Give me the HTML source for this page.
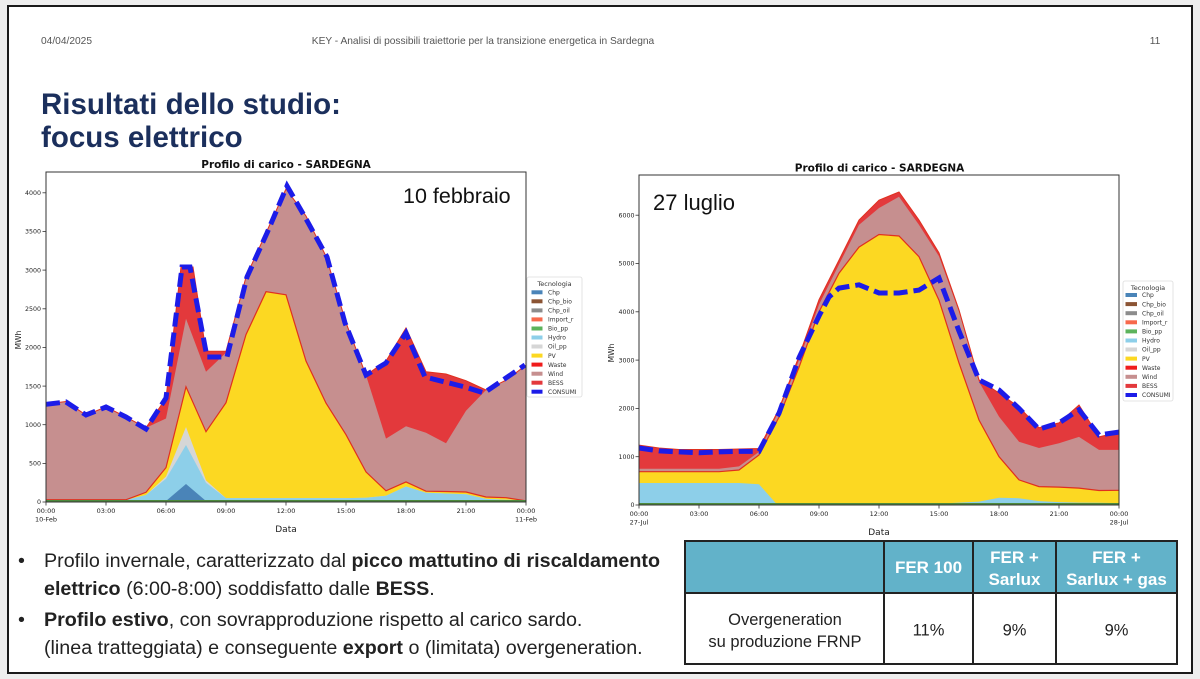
<!DOCTYPE html>
<html><head><meta charset="utf-8"><style>
html,body{margin:0;padding:0;background:#eeeeee;}
svg{display:block;}
</style></head><body>
<svg width="1200" height="679" viewBox="0 0 1200 679" xmlns="http://www.w3.org/2000/svg">
<rect x="0" y="0" width="1200" height="679" fill="#eeeeee"/>
<rect x="8" y="6" width="1184" height="667" fill="#ffffff" stroke="#1a1a1a" stroke-width="2"/>

<!-- header -->
<g font-family="Liberation Sans, sans-serif" font-size="10.2" fill="#555">
<text x="41" y="44">04/04/2025</text>
<text x="483" y="44" text-anchor="middle">KEY - Analisi di possibili traiettorie per la transizione energetica in Sardegna</text>
<text x="1155" y="44" text-anchor="middle">11</text>
</g>
<g font-family="Liberation Sans, sans-serif" font-size="29.5" font-weight="bold" fill="#1b2f5c">
<text x="41" y="114">Risultati dello studio:</text>
<text x="41" y="147">focus elettrico</text>
</g>

<!-- ============ LEFT CHART ============ -->
<g>
<polygon fill="#e3393c" points="46,404 66,401.5 86,415 106,406.9 126,417 146,427.8 166,398 181,267 193,267 206,351.3 226,351.3 246,277.1 266,233 286,188.9 306,216 326,256.2 346,322.7 366,375.2 386,361 406,328 426,371.7 446,374 466,380.7 486,390 506,380.2 526,365.2 526,502 46,502"/>
<polygon fill="#c68f8f" points="46,404 66,401.5 86,415 106,406.9 126,417 146,427.8 166,418.5 186,318.8 206,371.7 226,352.8 246,277.1 266,233 286,188.9 306,216 326,256.2 346,322.7 366,375.2 386,438.6 406,426.2 426,432.8 446,443.3 466,410.8 486,390 506,380.2 526,365.2 526,502 46,502"/>
<polygon fill="#fcd822" points="46,499.7 126,499.7 146,492.3 166,467.6 186,386.8 206,431.7 226,402.7 246,334.6 266,291.7 286,294.8 306,361 326,403.1 346,434.7 366,471.9 386,490.8 406,481.9 426,491.2 446,491.5 466,492 486,497 506,497.7 526,500.8 526,502 46,502"/>
<polygon fill="#d6d6d6" points="46,500 126,500 146,495 166,476.5 186,427 206,480.4 226,498.1 346,498.1 366,497.7 386,495.8 406,486.5 426,492.7 446,493.5 466,494.3 486,498.9 506,499.7 526,500.5 526,502 46,502"/>
<polygon fill="#8dcfe9" points="46,500 126,500 146,495 166,478.8 186,445 206,482.7 226,498.1 346,498.1 366,497.7 386,495.8 406,486.5 426,492.7 446,493.5 466,494.3 486,498.9 506,499.7 526,500.5 526,502 46,502"/>
<polygon fill="#4a84b8" points="166,501 186,484 206,501"/>
<polyline fill="none" stroke="#e0301e" stroke-width="1.2" points="46,499.7 126,499.7 146,492.3 166,467.6 186,386.8 206,431.7 226,402.7 246,334.6 266,291.7 286,294.8 306,361 326,403.1 346,434.7 366,471.9 386,490.8 406,481.9 426,491.2 446,491.5 466,492 486,497 506,497.7 526,500.8"/>
<polyline fill="none" stroke="#e0301e" stroke-width="1" points="46,404 66,401.5 86,415 106,406.9 126,417 146,427.8 166,398 181,267 193,267 206,351.3 226,351.3 246,277.1 266,233 286,188.9 306,216 326,256.2 346,322.7 366,375.2 386,361 406,328 426,371.7 446,374 466,380.7 486,390 506,380.2 526,365.2"/>
<line x1="46" y1="500.8" x2="526" y2="500.8" stroke="#4c8a3c" stroke-width="1.6"/>
<polyline fill="none" stroke="#1c1ce8" stroke-width="5" stroke-dasharray="14 6" points="46,404.3 66,402 86,415 106,407 126,417 146,429 166,398 182,267 190,267 207,357 227,357 247,277 267,233 287,186 305,217 327,257 345,323 366,375 386,363 406,333 425,377 445,382 465,387 484,393 503,380 525,365"/>
<rect x="46" y="172" width="480" height="330" fill="none" stroke="#333" stroke-width="1"/>
</g>
<g font-family="DejaVu Sans, sans-serif" font-size="6.3" fill="#222" text-anchor="end">
<g stroke="#333" stroke-width="0.8">
<line x1="42.5" y1="502" x2="46" y2="502"/><line x1="42.5" y1="463.4" x2="46" y2="463.4"/><line x1="42.5" y1="424.7" x2="46" y2="424.7"/><line x1="42.5" y1="386.1" x2="46" y2="386.1"/><line x1="42.5" y1="347.4" x2="46" y2="347.4"/><line x1="42.5" y1="308.8" x2="46" y2="308.8"/><line x1="42.5" y1="270.1" x2="46" y2="270.1"/><line x1="42.5" y1="231.5" x2="46" y2="231.5"/><line x1="42.5" y1="192.8" x2="46" y2="192.8"/>
<line x1="46" y1="502" x2="46" y2="505.5"/><line x1="106" y1="502" x2="106" y2="505.5"/><line x1="166" y1="502" x2="166" y2="505.5"/><line x1="226" y1="502" x2="226" y2="505.5"/><line x1="286" y1="502" x2="286" y2="505.5"/><line x1="346" y1="502" x2="346" y2="505.5"/><line x1="406" y1="502" x2="406" y2="505.5"/><line x1="466" y1="502" x2="466" y2="505.5"/><line x1="526" y1="502" x2="526" y2="505.5"/>
</g>
<text x="41" y="504.2">0</text><text x="41" y="465.6">500</text><text x="41" y="426.9">1000</text><text x="41" y="388.3">1500</text><text x="41" y="349.6">2000</text><text x="41" y="311">2500</text><text x="41" y="272.3">3000</text><text x="41" y="233.7">3500</text><text x="41" y="195">4000</text>
</g>
<g font-family="DejaVu Sans, sans-serif" font-size="6.5" fill="#222" text-anchor="middle">
<text x="46" y="513">00:00</text><text x="46" y="521.5">10-Feb</text>
<text x="106" y="513">03:00</text><text x="166" y="513">06:00</text><text x="226" y="513">09:00</text><text x="286" y="513">12:00</text><text x="346" y="513">15:00</text><text x="406" y="513">18:00</text><text x="466" y="513">21:00</text>
<text x="526" y="513">00:00</text><text x="526" y="521.5">11-Feb</text>
<text x="286" y="532" font-size="9">Data</text>
<text transform="translate(21,340) rotate(-90)" font-size="7.5">MWh</text>
<text x="286" y="168" font-size="10.5" font-weight="bold" fill="#111">Profilo di carico - SARDEGNA</text>
</g>
<text x="403" y="203" font-family="Liberation Sans, sans-serif" font-size="21.5" fill="#111">10 febbraio</text>

<!-- legend left -->
<g font-family="DejaVu Sans, sans-serif" font-size="6" fill="#333">
<rect x="527" y="277" width="55" height="120" rx="2" fill="#fff" stroke="#dddddd" stroke-width="0.8"/>
<text x="554.5" y="286" text-anchor="middle" font-size="6.5">Tecnologia</text>
<rect x="531.5" y="290.3" width="11" height="4" fill="#4a84b8"/><text x="548" y="294.5">Chp</text>
<rect x="531.5" y="299.3" width="11" height="4" fill="#8b5434"/><text x="548" y="303.5">Chp_bio</text>
<rect x="531.5" y="308.4" width="11" height="4" fill="#8c8c8c"/><text x="548" y="312.6">Chp_oil</text>
<rect x="531.5" y="317.4" width="11" height="4" fill="#f7694c"/><text x="548" y="321.6">Import_r</text>
<rect x="531.5" y="326.5" width="11" height="4" fill="#5cb35c"/><text x="548" y="330.7">Bio_pp</text>
<rect x="531.5" y="335.5" width="11" height="4" fill="#8dcfe9"/><text x="548" y="339.7">Hydro</text>
<rect x="531.5" y="344.5" width="11" height="4" fill="#d6d6d6"/><text x="548" y="348.7">Oil_pp</text>
<rect x="531.5" y="353.6" width="11" height="4" fill="#fcd822"/><text x="548" y="357.8">PV</text>
<rect x="531.5" y="362.6" width="11" height="4" fill="#f01c1c"/><text x="548" y="366.8">Waste</text>
<rect x="531.5" y="371.7" width="11" height="4" fill="#c68f8f"/><text x="548" y="375.9">Wind</text>
<rect x="531.5" y="380.7" width="11" height="4" fill="#e3393c"/><text x="548" y="384.9">BESS</text>
<rect x="531.5" y="389.7" width="11" height="4" fill="#1c1ce8"/><text x="548" y="393.9">CONSUMI</text>
</g>

<!-- ============ RIGHT CHART ============ -->
<g>
<polygon fill="#e3393c" points="639,445.1 659,448 679,449.5 719,449.5 739,449 759,448.5 779,408.9 799,356.2 819,299.7 839,260.1 859,220 879,200.2 899,192 919,220 939,252.9 959,309.9 979,379.9 999,393 1019,407 1039,427.7 1059,422.9 1079,405 1099,436.9 1119,432.1 1119,505 639,505"/>
<polygon fill="#c68f8f" points="639,468.8 719,468.8 739,466.4 759,451.9 779,410.8 799,360.1 819,304.6 839,264.5 859,224.9 879,208 899,196.8 919,224.9 939,256.3 959,311.8 979,381.8 999,416.6 1019,441.7 1039,448 1059,443.2 1079,436.9 1099,449.9 1119,449.9 1119,505 639,505"/>
<polygon fill="#fcd822" points="639,471.7 719,471.7 739,470 759,455 779,417.1 799,367.3 819,311.8 839,273.2 859,247.1 879,234.5 899,236 919,256.7 939,300.2 959,363 979,420 999,456.7 1019,479.9 1039,486.6 1059,487.1 1079,488.1 1099,490.5 1119,490.3 1119,505 639,505"/>
<polygon fill="#8dcfe9" points="639,483 739,483 759,484.2 777,504.5 819,504 839,503.6 879,503.8 919,504 939,503.6 959,502.6 979,501.6 999,497.8 1019,498.2 1039,501.1 1059,502.1 1079,502.6 1099,502.8 1119,503.1 1119,505 639,505"/>
<polyline fill="none" stroke="#e0301e" stroke-width="1.2" points="639,471.7 719,471.7 739,470 759,455 779,417.1 799,367.3 819,311.8 839,273.2 859,247.1 879,234.5 899,236 919,256.7 939,300.2 959,363 979,420 999,456.7 1019,479.9 1039,486.6 1059,487.1 1079,488.1 1099,490.5 1119,490.3"/>
<polyline fill="none" stroke="#e0301e" stroke-width="1" points="639,445.1 659,448 679,449.5 719,449.5 739,449 759,448.5 779,408.9 799,356.2 819,299.7 839,260.1 859,220 879,200.2 899,192 919,220 939,252.9 959,309.9 979,379.9 999,393 1019,407 1039,427.7 1059,422.9 1079,405 1099,436.9 1119,432.1"/>
<line x1="639" y1="503.8" x2="1119" y2="503.8" stroke="#4c8a3c" stroke-width="1.6"/>
<polyline fill="none" stroke="#1c1ce8" stroke-width="5" stroke-dasharray="14 6" points="639,448 659,450.9 679,451.9 699,452.8 719,451.9 739,451.4 759,451.4 779,413.2 799,357.7 819,316 829,297 839,288.1 859,284.8 879,293 899,293 919,290.1 939,278 959,331.1 979,379.9 999,390 1019,408.4 1039,429.2 1059,422.9 1079,409.8 1099,435 1119,432.1"/>
<rect x="639" y="175" width="480" height="330" fill="none" stroke="#333" stroke-width="1"/>
</g>
<g font-family="DejaVu Sans, sans-serif" font-size="6.3" fill="#222" text-anchor="end">
<g stroke="#333" stroke-width="0.8">
<line x1="635.5" y1="505" x2="639" y2="505"/><line x1="635.5" y1="456.7" x2="639" y2="456.7"/><line x1="635.5" y1="408.4" x2="639" y2="408.4"/><line x1="635.5" y1="360.1" x2="639" y2="360.1"/><line x1="635.5" y1="311.8" x2="639" y2="311.8"/><line x1="635.5" y1="263.5" x2="639" y2="263.5"/><line x1="635.5" y1="215.2" x2="639" y2="215.2"/>
<line x1="639" y1="505" x2="639" y2="508.5"/><line x1="699" y1="505" x2="699" y2="508.5"/><line x1="759" y1="505" x2="759" y2="508.5"/><line x1="819" y1="505" x2="819" y2="508.5"/><line x1="879" y1="505" x2="879" y2="508.5"/><line x1="939" y1="505" x2="939" y2="508.5"/><line x1="999" y1="505" x2="999" y2="508.5"/><line x1="1059" y1="505" x2="1059" y2="508.5"/><line x1="1119" y1="505" x2="1119" y2="508.5"/>
</g>
<text x="634.5" y="507.2">0</text><text x="634.5" y="458.9">1000</text><text x="634.5" y="410.6">2000</text><text x="634.5" y="362.3">3000</text><text x="634.5" y="314">4000</text><text x="634.5" y="265.7">5000</text><text x="634.5" y="217.4">6000</text>
</g>
<g font-family="DejaVu Sans, sans-serif" font-size="6.5" fill="#222" text-anchor="middle">
<text x="639" y="516">00:00</text><text x="639" y="524.5">27-Jul</text>
<text x="699" y="516">03:00</text><text x="759" y="516">06:00</text><text x="819" y="516">09:00</text><text x="879" y="516">12:00</text><text x="939" y="516">15:00</text><text x="999" y="516">18:00</text><text x="1059" y="516">21:00</text>
<text x="1119" y="516">00:00</text><text x="1119" y="524.5">28-Jul</text>
<text x="879" y="535" font-size="9">Data</text>
<text transform="translate(614,353) rotate(-90)" font-size="7.5">MWh</text>
<text x="879.5" y="171.5" font-size="10.5" font-weight="bold" fill="#111">Profilo di carico - SARDEGNA</text>
</g>
<text x="653" y="210" font-family="Liberation Sans, sans-serif" font-size="22" fill="#111">27 luglio</text>

<!-- legend right -->
<g font-family="DejaVu Sans, sans-serif" font-size="6" fill="#333">
<rect x="1123" y="281" width="50" height="120" rx="2" fill="#fff" stroke="#dddddd" stroke-width="0.8"/>
<text x="1148" y="290" text-anchor="middle" font-size="6.5">Tecnologia</text>
<rect x="1125.5" y="293" width="11.5" height="4" fill="#4a84b8"/><text x="1142" y="297.2">Chp</text>
<rect x="1125.5" y="302.1" width="11.5" height="4" fill="#8b5434"/><text x="1142" y="306.3">Chp_bio</text>
<rect x="1125.5" y="311.2" width="11.5" height="4" fill="#8c8c8c"/><text x="1142" y="315.4">Chp_oil</text>
<rect x="1125.5" y="320.3" width="11.5" height="4" fill="#f7694c"/><text x="1142" y="324.5">Import_r</text>
<rect x="1125.5" y="329.4" width="11.5" height="4" fill="#5cb35c"/><text x="1142" y="333.6">Bio_pp</text>
<rect x="1125.5" y="338.5" width="11.5" height="4" fill="#8dcfe9"/><text x="1142" y="342.7">Hydro</text>
<rect x="1125.5" y="347.5" width="11.5" height="4" fill="#d6d6d6"/><text x="1142" y="351.7">Oil_pp</text>
<rect x="1125.5" y="356.6" width="11.5" height="4" fill="#fcd822"/><text x="1142" y="360.8">PV</text>
<rect x="1125.5" y="365.7" width="11.5" height="4" fill="#f01c1c"/><text x="1142" y="369.9">Waste</text>
<rect x="1125.5" y="374.8" width="11.5" height="4" fill="#c68f8f"/><text x="1142" y="379">Wind</text>
<rect x="1125.5" y="383.9" width="11.5" height="4" fill="#e3393c"/><text x="1142" y="388.1">BESS</text>
<rect x="1125.5" y="393" width="11.5" height="4" fill="#1c1ce8"/><text x="1142" y="397.2">CONSUMI</text>
</g>

<!-- bullets -->
<g font-family="Liberation Sans, sans-serif" font-size="19.7" fill="#222">
<text x="18" y="567">•</text>
<text x="44" y="567">Profilo invernale, caratterizzato dal <tspan font-weight="bold">picco mattutino di riscaldamento</tspan></text>
<text x="44" y="595"><tspan font-weight="bold">elettrico</tspan> (6:00-8:00) soddisfatto dalle <tspan font-weight="bold">BESS</tspan>.</text>
<text x="18" y="626">•</text>
<text x="44" y="626"><tspan font-weight="bold">Profilo estivo</tspan>, con sovrapproduzione rispetto al carico sardo.</text>
<text x="44" y="654">(linea tratteggiata) e conseguente <tspan font-weight="bold">export</tspan> o (limitata) overgeneration.</text>
</g>

<!-- table -->
<rect x="685" y="541" width="492" height="52" fill="#62b2c9"/>
<rect x="685" y="593" width="492" height="71" fill="#ffffff"/>
<g stroke="#222" stroke-width="2" fill="none">
<rect x="685" y="541" width="492" height="123"/>
<line x1="685" y1="593" x2="1177" y2="593"/>
<line x1="884" y1="541" x2="884" y2="664"/>
<line x1="973" y1="541" x2="973" y2="664"/>
<line x1="1056" y1="541" x2="1056" y2="664"/>
</g>
<g font-family="Liberation Sans, sans-serif" font-size="17" font-weight="bold" fill="#ffffff" text-anchor="middle">
<text x="928.5" y="573">FER 100</text>
<text x="1014.5" y="563">FER +</text>
<text x="1014.5" y="585">Sarlux</text>
<text x="1116.5" y="563">FER +</text>
<text x="1116.5" y="585">Sarlux + gas</text>
</g>
<g font-family="Liberation Sans, sans-serif" font-size="16.5" fill="#222" text-anchor="middle">
<text x="785" y="625">Overgeneration</text>
<text x="785" y="647">su produzione FRNP</text>
<text x="928.5" y="635.5">11%</text>
<text x="1014.5" y="635.5">9%</text>
<text x="1116.5" y="635.5">9%</text>
</g>
</svg>
</body></html>
